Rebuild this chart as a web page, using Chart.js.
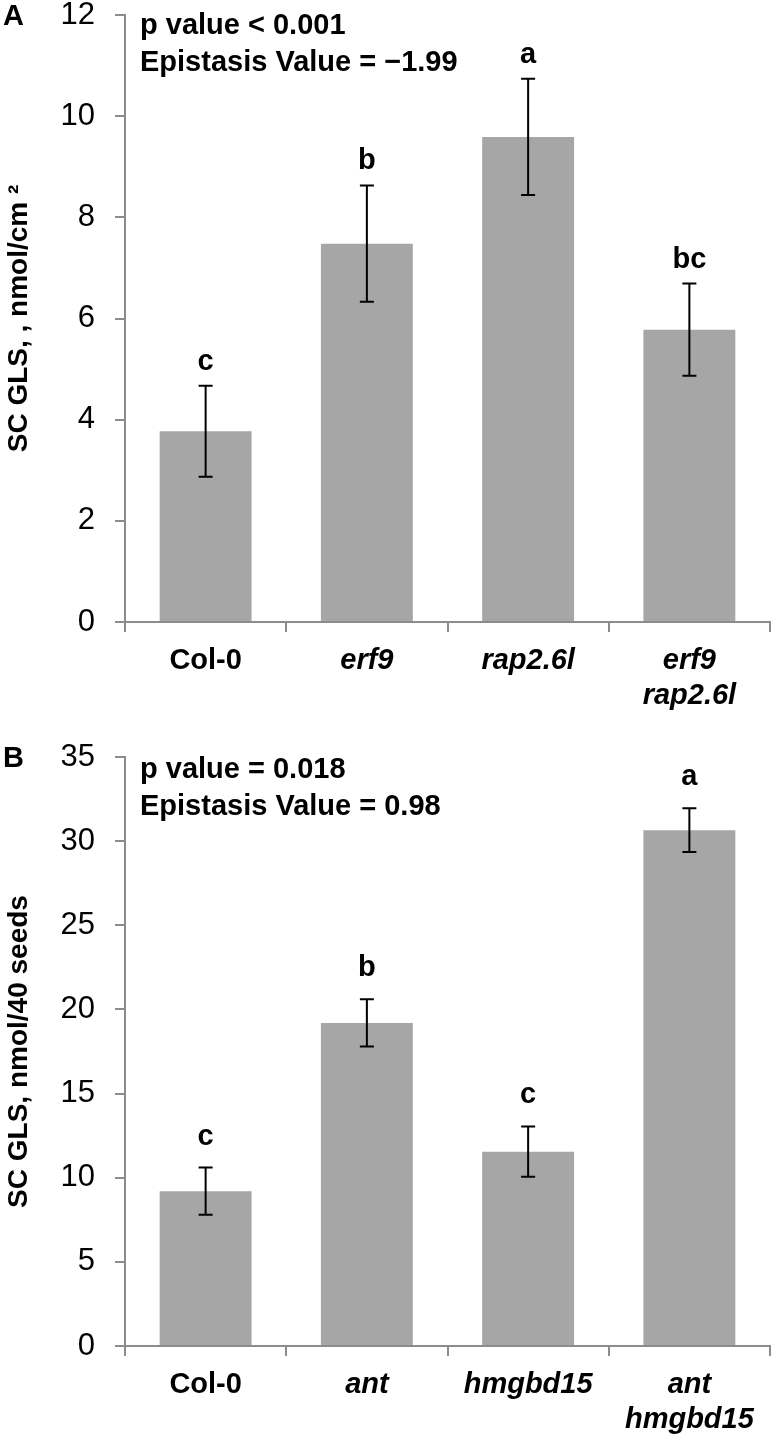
<!DOCTYPE html>
<html>
<head>
<meta charset="utf-8">
<script src="https://cdn.jsdelivr.net/npm/chart.js@4.4.1/dist/chart.umd.min.js"></script>
<style>
  html, body { margin: 0; padding: 0; background: #fff; }
  .panel { position: relative; width: 773px; }
  #panelA { height: 720px; }
  #panelB { height: 719px; }
</style>
</head>
<body>
<div class="panel" id="panelA"><canvas id="chartA"></canvas></div>
<div class="panel" id="panelB"><canvas id="chartB"></canvas></div>
<script>
// Panel A data
const labelsA = ['Col-0', 'erf9', 'rap2.6l', ['erf9', 'rap2.6l']];
const meansA = [3.77, 7.48, 9.59, 5.78];
const errorsA = [0.90, 1.15, 1.15, 0.91];
const lettersA = ['c', 'b', 'a', 'bc'];
const statsA = ['p value < 0.001', 'Epistasis Value = \u22121.99'];
const yMaxA = 12, yStepA = 2;

// Panel B data
const labelsB = ['Col-0', 'ant', 'hmgbd15', ['ant', 'hmgbd15']];
const meansB = [9.2, 19.2, 11.55, 30.65];
const errorsB = [1.4, 1.4, 1.5, 1.3];
const lettersB = ['c', 'b', 'c', 'a'];
const statsB = ['p value = 0.018', 'Epistasis Value = 0.98'];
const yMaxB = 35, yStepB = 5;

const FAMILY = "Arial, 'Liberation Sans', sans-serif";
const AXIS_GREY = '#8c8c8c';

// error bars, significance letters, stats text, panel letter
const annotate = {
  id: 'annotate',
  afterDatasetsDraw(chart, args, opts) {
    const ctx = chart.ctx;
    const ys = chart.scales.y;
    const ds = chart.data.datasets[0];
    const area = chart.chartArea;
    ctx.save();
    ctx.strokeStyle = '#000';
    ctx.lineWidth = 2;
    ctx.fillStyle = '#000';
    ctx.font = 'bold 29px ' + FAMILY;
    ctx.textAlign = 'center';
    ctx.textBaseline = 'alphabetic';
    chart.getDatasetMeta(0).data.forEach((bar, i) => {
      const m = ds.data[i], e = ds.errors[i];
      const top = ys.getPixelForValue(m + e);
      const bot = ys.getPixelForValue(m - e);
      ctx.beginPath();
      ctx.moveTo(bar.x, top); ctx.lineTo(bar.x, bot);
      ctx.moveTo(bar.x - 7, top); ctx.lineTo(bar.x + 7, top);
      ctx.moveTo(bar.x - 7, bot); ctx.lineTo(bar.x + 7, bot);
      ctx.stroke();
      ctx.fillText(ds.letters[i], bar.x, top - opts.letterGap);
    });
    ctx.textAlign = 'left';
    ctx.textBaseline = 'middle';
    opts.stats.forEach((s, i) => {
      ctx.fillText(s, area.left + 15, area.top + opts.statsTop + i * 37);
    });
    ctx.fillText(opts.panel, 3, area.top + 2);
    ctx.restore();
  }
};

function makeChart(id, labels, means, errors, letters, stats, yMax, yStep, yTitle, panel, top, xHeight, letterGap, statsTop) {
  return new Chart(document.getElementById(id), {
    type: 'bar',
    data: {
      labels: labels,
      datasets: [{
        data: means,
        errors: errors,
        letters: letters,
        backgroundColor: '#a6a6a6',
        barPercentage: 0.57,
        categoryPercentage: 1.0
      }]
    },
    options: {
      responsive: true,
      maintainAspectRatio: false,
      animation: false,
      layout: { padding: { top: top, right: 3, left: 0, bottom: 0 } },
      plugins: {
        legend: { display: false },
        tooltip: { enabled: false },
        annotate: { stats: stats, panel: panel, letterGap: letterGap, statsTop: statsTop }
      },
      scales: {
        x: {
          border: { display: true, color: AXIS_GREY, width: 2 },
          grid: { drawOnChartArea: false, drawTicks: true, tickLength: 10, color: AXIS_GREY, lineWidth: 2 },
          ticks: {
            color: '#000',
            padding: 12,
            maxRotation: 0,
            autoSkip: false,
            font: c => ({ family: FAMILY, size: 29, weight: 'bold', style: c.index === 0 ? 'normal' : 'italic', lineHeight: 1.2 })
          },
          afterFit: s => { s.height = xHeight; s.paddingLeft = 0; s.paddingRight = 0; }
        },
        y: {
          min: 0,
          max: yMax,
          border: { display: true, color: AXIS_GREY, width: 2 },
          grid: { drawOnChartArea: false, drawTicks: true, tickLength: 10, color: AXIS_GREY, lineWidth: 2 },
          ticks: {
            stepSize: yStep,
            color: '#000',
            padding: 20,
            font: { family: FAMILY, size: 31 }
          },
          title: {
            display: true,
            text: yTitle,
            color: '#000',
            padding: { top: 2, bottom: 0 },
            font: { family: FAMILY, size: 28, weight: 'bold' }
          },
          afterFit: s => { s.width = 125; s.paddingTop = 0; s.paddingBottom = 0; }
        }
      }
    },
    plugins: [annotate]
  });
}

makeChart('chartA', labelsA, meansA, errorsA, lettersA, statsA, yMaxA, yStepA,
  'SC GLS, , nmol/cm \u00b2', 'A', 15, 98, 16, 11);
makeChart('chartB', labelsB, meansB, errorsB, lettersB, statsB, yMaxB, yStepB,
  'SC GLS, nmol/40 seeds', 'B', 37, 93, 23, 13);
</script>
</body>
</html>
